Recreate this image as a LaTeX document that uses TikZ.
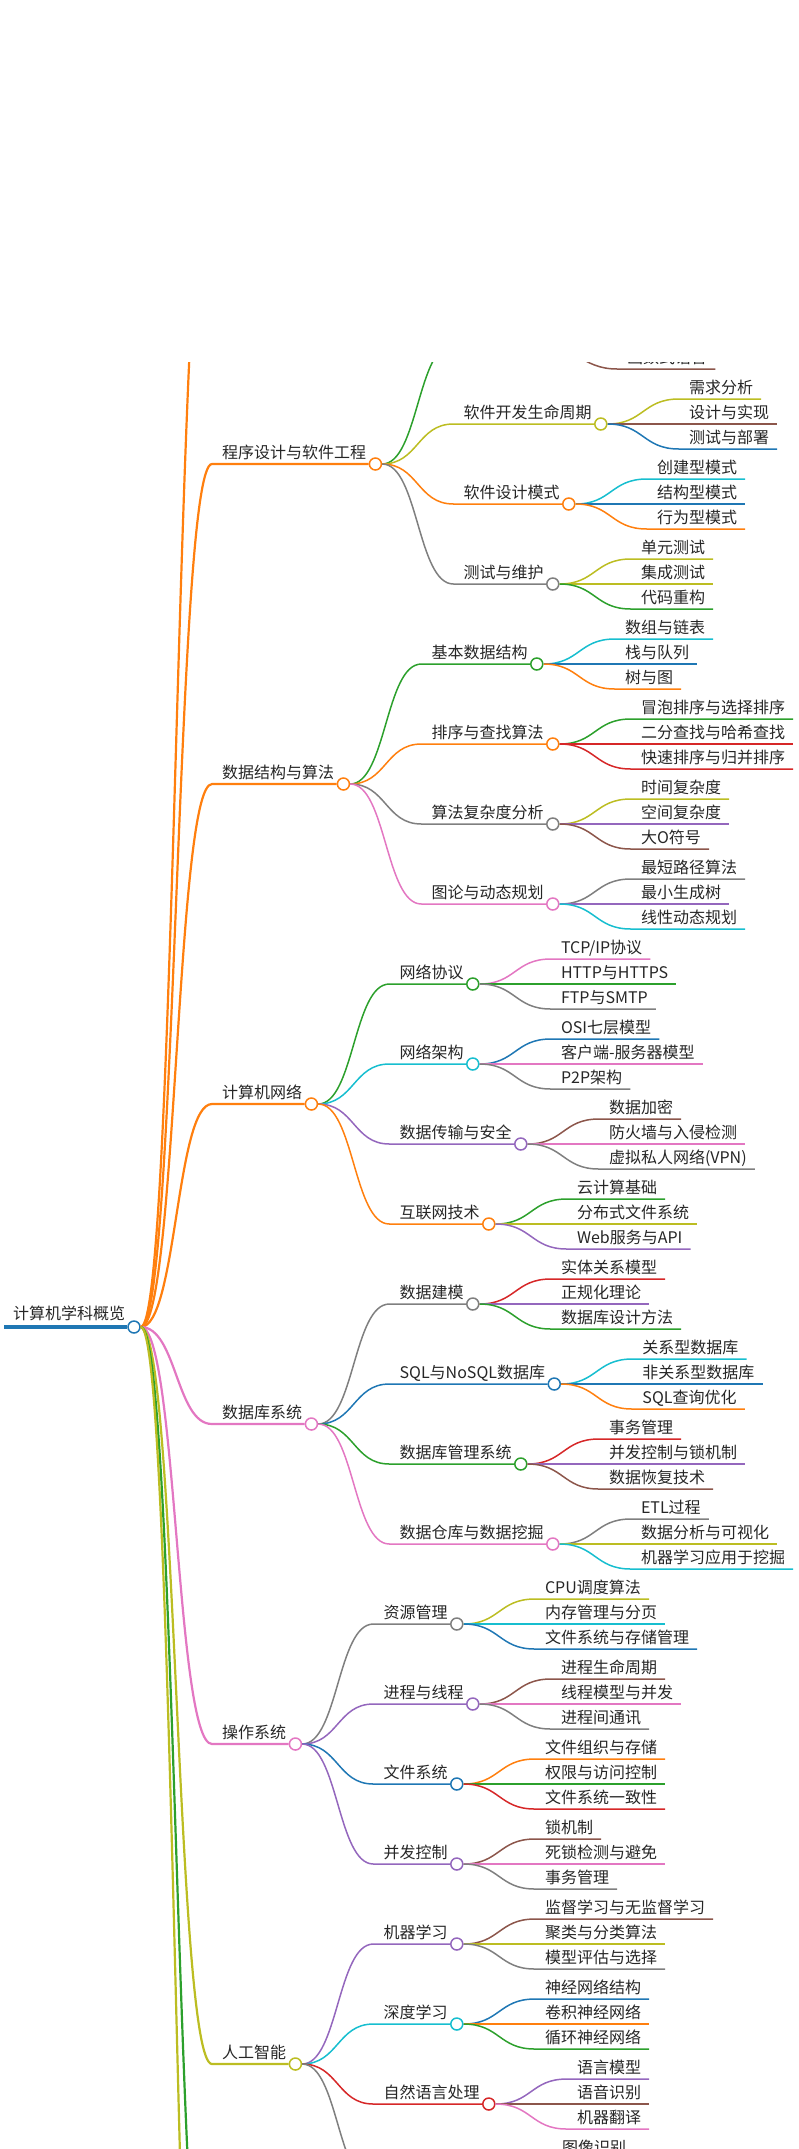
\documentclass[tikz,border=0pt]{standalone}
\usepackage{fontspec}
\setmainfont{Noto Sans CJK SC}
\definecolor{cBlue}{HTML}{1F77B4}
\definecolor{cOrange}{HTML}{FF7F0E}
\definecolor{cGreen}{HTML}{2CA02C}
\definecolor{cRed}{HTML}{D62728}
\definecolor{cPurple}{HTML}{9467BD}
\definecolor{cBrown}{HTML}{8C564B}
\definecolor{cPink}{HTML}{E377C2}
\definecolor{cGray}{HTML}{7F7F7F}
\definecolor{cOlive}{HTML}{BCBD22}
\definecolor{cCyan}{HTML}{17BECF}
\tikzset{
    txt/.style={inner sep=0pt, text height=12pt, text depth=3pt, text=black!85,
        font=\fontsize{16}{19}\selectfont},
    dot/.style={circle, minimum size=12pt, inner sep=0pt, fill=white, line width=1.5pt},
    main/.style={line width=2.2pt},
    sub/.style={line width=1.5pt}
}
% branch with a circle: [style]{name}{parent}{dy}{colour}{text}
\newcommand\mmnode[6][sub]{
    \coordinate (#2s) at ([shift={(78,#4)}]#3.center);
    \node[txt, anchor=south west] (#2t) at ([shift={(10,-2)}]#2s) {#6};
    \node[dot, draw=#5] (#2) at ([shift={(9,2)}]#2t.south east) {};
    \draw[#1, #5] (#3.east) .. controls +(36,0) and +(-36,0) .. (#2s) -- (#2.west);
}
% leaf: {name}{parent}{dy}{colour}{text}
\newcommand\mmleaf[5]{
    \coordinate (#1s) at ([shift={(78,#3)}]#2.center);
    \node[txt, anchor=south west] (#1) at ([shift={(10,-2)}]#1s) {#5};
    \draw[sub, #4] (#2.east) .. controls +(36,0) and +(-36,0) .. (#1s) -- ([shift={(8,2)}]#1.south east);
}
\begin{document}
\begin{tikzpicture}[x=1pt, y=-1pt]
\useasboundingbox (0,0) rectangle (799,2149);
\begin{scope}
\clip (0,362) rectangle (799,2149);

% root
\coordinate (rootl) at (4,1327);
\node[dot, draw=cBlue] (root) at (134,1327) {};
\node[txt, anchor=south west] (roott) at (13,1323) {计算机学科概览};
\draw[line width=4pt, cBlue] (rootl) -- (root.west);

% cut off at the top
\coordinate (topg) at (212,144);
\draw[main, cOrange] (root.east) .. controls +(36,0) and +(-36,0) .. (topg);

% 程序设计与软件工程
\mmnode[main]{pg}{root}{-863}{cOrange}{程序设计与软件工程}
\coordinate (pg0s) at ([shift={(78,-120)}]pg.center);
\draw[sub, cGreen] (pg.east) .. controls +(36,0) and +(-36,0) .. (pg0s);
\coordinate (pg0) at (539,344);
\mmleaf{pg0c}{pg0}{25}{cBrown}{函数式语言}
\mmnode{pg1}{pg}{-40}{cOlive}{软件开发生命周期}
\mmleaf{pg1a}{pg1}{-25}{cOlive}{需求分析}
\mmleaf{pg1b}{pg1}{0}{cBrown}{设计与实现}
\mmleaf{pg1c}{pg1}{25}{cBlue}{测试与部署}
\mmnode{pg2}{pg}{40}{cOrange}{软件设计模式}
\mmleaf{pg2a}{pg2}{-25}{cCyan}{创建型模式}
\mmleaf{pg2b}{pg2}{0}{cBlue}{结构型模式}
\mmleaf{pg2c}{pg2}{25}{cOrange}{行为型模式}
\mmnode{pg3}{pg}{120}{cGray}{测试与维护}
\mmleaf{pg3a}{pg3}{-25}{cOlive}{单元测试}
\mmleaf{pg3b}{pg3}{0}{cOlive}{集成测试}
\mmleaf{pg3c}{pg3}{25}{cGreen}{代码重构}

% 数据结构与算法
\mmnode[main]{ds}{root}{-543}{cOrange}{数据结构与算法}
\mmnode{ds0}{ds}{-120}{cGreen}{基本数据结构}
\mmleaf{ds0a}{ds0}{-25}{cCyan}{数组与链表}
\mmleaf{ds0b}{ds0}{0}{cBlue}{栈与队列}
\mmleaf{ds0c}{ds0}{25}{cOrange}{树与图}
\mmnode{ds1}{ds}{-40}{cOrange}{排序与查找算法}
\mmleaf{ds1a}{ds1}{-25}{cGreen}{冒泡排序与选择排序}
\mmleaf{ds1b}{ds1}{0}{cRed}{二分查找与哈希查找}
\mmleaf{ds1c}{ds1}{25}{cRed}{快速排序与归并排序}
\mmnode{ds2}{ds}{40}{cGray}{算法复杂度分析}
\mmleaf{ds2a}{ds2}{-25}{cOlive}{时间复杂度}
\mmleaf{ds2b}{ds2}{0}{cPurple}{空间复杂度}
\mmleaf{ds2c}{ds2}{25}{cBrown}{大O符号}
\mmnode{ds3}{ds}{120}{cPink}{图论与动态规划}
\mmleaf{ds3a}{ds3}{-25}{cGray}{最短路径算法}
\mmleaf{ds3b}{ds3}{0}{cPurple}{最小生成树}
\mmleaf{ds3c}{ds3}{25}{cCyan}{线性动态规划}

% 计算机网络
\mmnode[main]{net}{root}{-223}{cOrange}{计算机网络}
\mmnode{net0}{net}{-120}{cGreen}{网络协议}
\mmleaf{net0a}{net0}{-25}{cPink}{TCP/IP协议}
\mmleaf{net0b}{net0}{0}{cGreen}{HTTP与HTTPS}
\mmleaf{net0c}{net0}{25}{cGray}{FTP与SMTP}
\mmnode{net1}{net}{-40}{cCyan}{网络架构}
\mmleaf{net1a}{net1}{-25}{cBlue}{OSI七层模型}
\mmleaf{net1b}{net1}{0}{cPink}{客户端-服务器模型}
\mmleaf{net1c}{net1}{25}{cGray}{P2P架构}
\mmnode{net2}{net}{40}{cPurple}{数据传输与安全}
\mmleaf{net2a}{net2}{-25}{cBrown}{数据加密}
\mmleaf{net2b}{net2}{0}{cPink}{防火墙与入侵检测}
\mmleaf{net2c}{net2}{25}{cGray}{虚拟私人网络(VPN)}
\mmnode{net3}{net}{120}{cOrange}{互联网技术}
\mmleaf{net3a}{net3}{-25}{cGreen}{云计算基础}
\mmleaf{net3b}{net3}{0}{cOlive}{分布式文件系统}
\mmleaf{net3c}{net3}{25}{cPurple}{Web服务与API}

% 数据库系统
\mmnode[main]{db}{root}{97}{cPink}{数据库系统}
\mmnode{db0}{db}{-120}{cGray}{数据建模}
\mmleaf{db0a}{db0}{-25}{cRed}{实体关系模型}
\mmleaf{db0b}{db0}{0}{cPurple}{正规化理论}
\mmleaf{db0c}{db0}{25}{cGreen}{数据库设计方法}
\mmnode{db1}{db}{-40}{cBlue}{SQL与NoSQL数据库}
\mmleaf{db1a}{db1}{-25}{cCyan}{关系型数据库}
\mmleaf{db1b}{db1}{0}{cBlue}{非关系型数据库}
\mmleaf{db1c}{db1}{25}{cOrange}{SQL查询优化}
\mmnode{db2}{db}{40}{cGreen}{数据库管理系统}
\mmleaf{db2a}{db2}{-25}{cRed}{事务管理}
\mmleaf{db2b}{db2}{0}{cPurple}{并发控制与锁机制}
\mmleaf{db2c}{db2}{25}{cBrown}{数据恢复技术}
\mmnode{db3}{db}{120}{cPink}{数据仓库与数据挖掘}
\mmleaf{db3a}{db3}{-25}{cGray}{ETL过程}
\mmleaf{db3b}{db3}{0}{cOlive}{数据分析与可视化}
\mmleaf{db3c}{db3}{25}{cCyan}{机器学习应用于挖掘}

% 操作系统
\mmnode[main]{os}{root}{417}{cPink}{操作系统}
\mmnode{os0}{os}{-120}{cGray}{资源管理}
\mmleaf{os0a}{os0}{-25}{cOlive}{CPU调度算法}
\mmleaf{os0b}{os0}{0}{cCyan}{内存管理与分页}
\mmleaf{os0c}{os0}{25}{cBlue}{文件系统与存储管理}
\mmnode{os1}{os}{-40}{cPurple}{进程与线程}
\mmleaf{os1a}{os1}{-25}{cBrown}{进程生命周期}
\mmleaf{os1b}{os1}{0}{cPink}{线程模型与并发}
\mmleaf{os1c}{os1}{25}{cGray}{进程间通讯}
\mmnode{os2}{os}{40}{cBlue}{文件系统}
\mmleaf{os2a}{os2}{-25}{cOrange}{文件组织与存储}
\mmleaf{os2b}{os2}{0}{cGreen}{权限与访问控制}
\mmleaf{os2c}{os2}{25}{cRed}{文件系统一致性}
\mmnode{os3}{os}{120}{cPurple}{并发控制}
\mmleaf{os3a}{os3}{-25}{cBrown}{锁机制}
\mmleaf{os3b}{os3}{0}{cPink}{死锁检测与避免}
\mmleaf{os3c}{os3}{25}{cGray}{事务管理}

% 人工智能
\mmnode[main]{ai}{root}{737}{cOlive}{人工智能}
\mmnode{ai0}{ai}{-120}{cPurple}{机器学习}
\mmleaf{ai0a}{ai0}{-25}{cBrown}{监督学习与无监督学习}
\mmleaf{ai0b}{ai0}{0}{cOlive}{聚类与分类算法}
\mmleaf{ai0c}{ai0}{25}{cGray}{模型评估与选择}
\mmnode{ai1}{ai}{-40}{cCyan}{深度学习}
\mmleaf{ai1a}{ai1}{-25}{cBlue}{神经网络结构}
\mmleaf{ai1b}{ai1}{0}{cOrange}{卷积神经网络}
\mmleaf{ai1c}{ai1}{25}{cGreen}{循环神经网络}
\mmnode{ai2}{ai}{40}{cRed}{自然语言处理}
\mmleaf{ai2a}{ai2}{-25}{cPurple}{语言模型}
\mmleaf{ai2b}{ai2}{0}{cBrown}{语音识别}
\mmleaf{ai2c}{ai2}{25}{cPink}{机器翻译}
\coordinate (ai3s) at ([shift={(78,120)}]ai.center);
\draw[sub, cGray] (ai.east) .. controls +(36,0) and +(-36,0) .. (ai3s);
\coordinate (ai3) at (474,2184);
\mmleaf{ai3a}{ai3}{-25}{cBlue}{图像识别}

% cut off at the bottom
\coordinate (botg) at (212,2384);
\coordinate (lastg) at (212,2704);
\draw[main, cGreen] (root.east) .. controls +(36,0) and +(-36,0) .. (botg);
\draw[main, cOlive] (root.east) .. controls +(36,0) and +(-36,0) .. (lastg);
\end{scope}
\end{tikzpicture}
\end{document}
